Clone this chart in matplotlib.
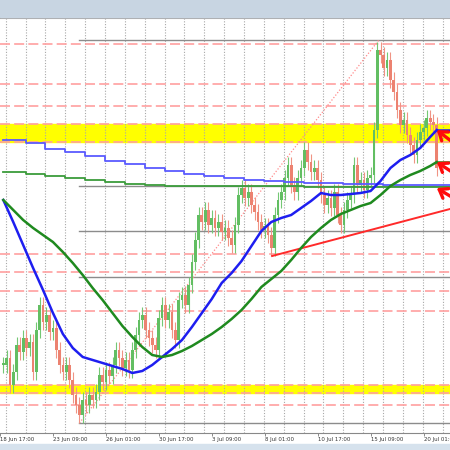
import numpy as np
import matplotlib
matplotlib.use("Agg")
import matplotlib.pyplot as plt
from matplotlib.patches import Rectangle

# hourly closes, one every 4 bars (chart units)
closes = [85, 92, 65, 78, 105, 98, 112, 102, 108, 78, 120, 145, 128, 135, 118, 122, 100, 85, 78, 85,
          70, 55, 45, 35, 50, 45, 55, 50, 58, 75, 68, 80, 74, 85, 100, 92, 82, 90, 80, 100,
          115, 130, 135, 120, 112, 105, 100, 132, 145, 130, 138, 120, 110, 150, 155, 145, 165, 188, 210, 235,
          228, 240, 225, 232, 222, 228, 218, 222, 212, 205, 225, 255, 262, 252, 258, 245, 238, 228, 220, 224,
          215, 202, 235, 250, 258, 272, 285, 265, 258, 272, 282, 300, 288, 278, 282, 270, 255, 245, 252, 242,
          258, 235, 225, 240, 250, 255, 285, 265, 270, 260, 272, 275, 320, 400, 395, 382, 390, 370, 358, 340,
          325, 330, 315, 305, 295, 310, 318, 322, 332, 328, 325, 282]
bar_step = 4

# moving averages (100 / 200 hour), sampled along the chart
ma_hours = [0, 12, 24, 36, 48, 60, 72, 84, 96, 108, 120, 132, 144, 156, 168, 180, 192, 204, 216, 228,
            240, 252, 264, 276, 288, 300, 312, 324, 336, 348, 360, 372, 384, 396, 408, 420, 432, 444, 456, 468,
            480, 492, 504, 516, 524]
ma100 = [250, 228, 205, 182, 160, 137, 116, 102, 93, 90, 87, 84, 81, 77, 79, 85, 93, 101, 110, 123,
         137, 151, 167, 177, 189, 204, 219, 228, 232, 235, 242, 249, 257, 255, 255, 256, 257, 259, 269, 282,
         290, 295, 302, 313, 320]
ma200 = [250, 240, 230, 222, 215, 208, 198, 187, 175, 162, 150, 137, 124, 113, 103, 95, 93, 95, 99, 104,
         110, 116, 123, 131, 140, 151, 163, 171, 179, 190, 202, 213, 222, 230, 236, 240, 244, 247, 255, 264,
         270, 275, 279, 284, 288]

# daily moving averages (step lines), one value per day
daily_100 = [310, 310, 306.5, 301, 297.5, 293.5, 289, 286, 282, 279, 276, 273.5, 271.5, 270, 268.5, 267.5,
             267, 266.5, 266, 265.5, 265, 265, 265, 265]
daily_200 = [278, 278, 276, 274, 272, 270, 268, 266, 265, 264, 264, 264, 264, 264, 264, 264,
             263, 263, 263, 263, 263, 263, 263, 263]

# horizontal levels and zones
levels = [406, 366, 344, 196, 178, 159, 139, 45]
zones = [(308, 326), (57, 65)]
fib_low = (92, 27)
fib_high = (454, 410)
fib_ratios = [0, 0.382, 0.5, 0.618, 1]
trend = [(325, 194), (540, 241)]
arrow_tails = [310, 280, 255]

tick_bars = [-4, 60, 124, 188, 252, 316, 380, 444, 508]
tick_labels = ["18 Jun 17:00", "23 Jun 09:00", "26 Jun 01:00", "30 Jun 17:00", "3 Jul 09:00",
               "8 Jul 01:00", "10 Jul 17:00", "15 Jul 09:00", "20 Jul 01:00"]

fig = plt.figure(figsize=(4.5, 4.5), dpi=100)
fig.patches.append(Rectangle((0, 0.962), 1, 0.04, transform=fig.transFigure, color="#c8d5e2", zorder=0))
fig.patches.append(Rectangle((0, 0), 1, 0.013, transform=fig.transFigure, color="#d6e2ed", zorder=0))
ax = fig.add_axes([0, 0.0378, 1, 0.9222])
ax.set_xlim(0, 540)
ax.set_ylim(17, 432)

for lo, hi in zones:
    ax.axhspan(lo, hi, color="#ffff00", zorder=0)

for k in range(23):
    ax.axvline(3 + 24 * k, color="#a8a8a8", lw=0.8, ls=(0, (1, 1.5)), zorder=1)

for lv in levels + [z for pair in zones for z in pair]:
    ax.axhline(lv, color="#ffa0a0", lw=1.2, ls=(0, (6, 2.5)), zorder=2)

# fibonacci retracement
for r in fib_ratios:
    y = fib_low[1] + r * (fib_high[1] - fib_low[1])
    ax.plot([fib_low[0], 540], [y, y], color="#8c8c8c", lw=1, zorder=2)
ax.plot([fib_low[0], fib_high[0]], [fib_low[1], fib_high[1]], color="#ff8a8a", lw=0.9,
        ls=(0, (1, 1.5)), zorder=2)

# candles
c = np.array(closes, dtype=float)
o = np.r_[c[0], c[:-1]]
xb = np.arange(len(c)) * bar_step
up = c >= o
wick = 8
ax.vlines(xb, np.minimum(o, c) - wick, np.maximum(o, c) + wick,
          colors=np.where(up, "#74c874", "#f09484"), lw=0.8, zorder=3)
ax.bar(xb, np.maximum(np.abs(c - o), 1.5), bottom=np.minimum(o, c), width=3.3,
       color=np.where(up, "#62be62", "#ec8270"), zorder=3)

# step lines (daily MAs)
day_x = np.r_[0, 3 + 24 * np.arange(len(daily_100) - 1)]
ax.step(np.r_[day_x, 540], np.r_[daily_100, daily_100[-1]], where="post", color="#5a5aff", lw=1.3, zorder=4)
ax.step(np.r_[day_x, 540], np.r_[daily_200, daily_200[-1]], where="post", color="#3c9c3c", lw=1.3, zorder=4)

# hourly MAs
ax.plot(ma_hours, ma100, color="#1e1ef0", lw=1.8, zorder=5)
ax.plot(ma_hours, ma200, color="#1f8a1f", lw=1.8, zorder=5)
ax.plot([ma_hours[-1], 540], [ma100[-1], ma100[-1]], color="#1e1ef0", lw=1.8, zorder=5)
ax.plot([ma_hours[-1], 540], [ma200[-1], ma200[-1]], color="#1f8a1f", lw=1.8, zorder=5)

# trend line
ax.plot([trend[0][0], trend[1][0]], [trend[0][1], trend[1][1]], color="#ff2a2a", lw=1.4, zorder=4)

# arrows to the MAs
tips = [ma100[-1], ma200[-1], daily_100[-1] - 3]
for tip_y, tail_y in zip(tips, arrow_tails):
    ax.annotate("", xy=(ma_hours[-1], tip_y), xytext=(546, tail_y - 4),
                arrowprops=dict(arrowstyle="->,head_length=0.55,head_width=0.4", color="#ff0c0c",
                                lw=2.4, shrinkA=0, shrinkB=0),
                annotation_clip=False, zorder=6)

ax.set_yticks([])
ax.set_xticks(tick_bars)
ax.set_xticklabels(tick_labels, fontsize=3.9, color="#333333", ha="left")
ax.tick_params(axis="x", length=2, width=0.6, color="#777777", pad=1.2)
for s in ["left", "right"]:
    ax.spines[s].set_visible(False)
ax.spines["bottom"].set_color("#888888")
ax.spines["top"].set_color("#a8a8a8")
ax.spines["top"].set_linewidth(1.5)

fig.savefig("out.png", dpi=100)
